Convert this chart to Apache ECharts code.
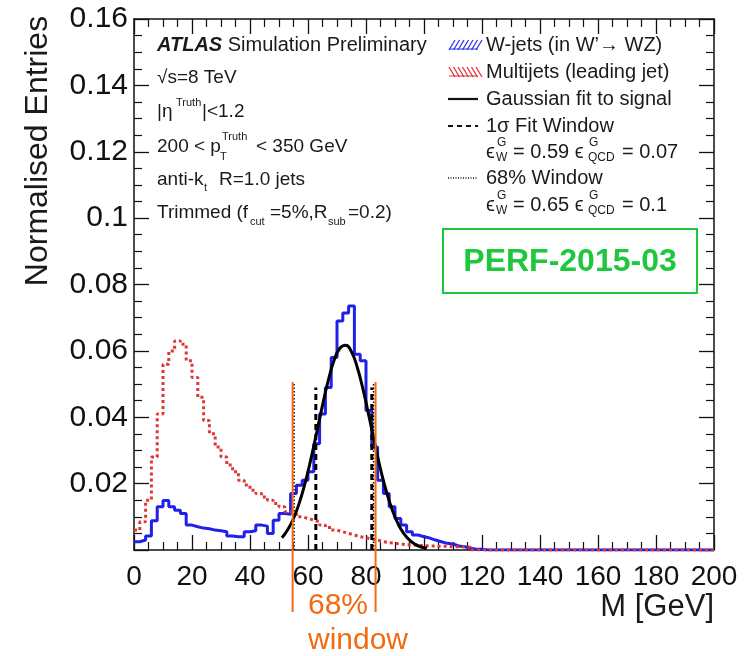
<!DOCTYPE html>
<html><head><meta charset="utf-8">
<script src="https://cdn.jsdelivr.net/npm/echarts@6/dist/echarts.min.js"></script>
<style>html,body{margin:0;padding:0;background:#fff}#c{width:751px;height:656px}</style>
</head><body><div id="c"></div>
<script>
// ---- data ----
const binWidth = 2; // GeV
const wjets = [
 0.0025,0.003,0.0042,0.0088,0.013,0.0149,0.013,0.012,0.011,0.0075,
 0.007,0.0066,0.0064,0.006,0.0058,0.0055,0.0042,0.004,0.004,0.0055,
 0.0058,0.0075,0.0072,0.005,0.009,0.011,0.0108,0.017,0.0195,0.021,
 0.0236,0.032,0.041,0.049,0.058,0.069,0.0714,0.0735,0.059,0.057,
 0.042,0.031,0.021,0.017,0.013,0.0095,0.0075,0.0055,0.0045,0.004,
 0.0036,0.003,0.0025,0.002,0.0018,0.0012,0.001,0.0005,0.0002,0.0002,
 0,0,0,0,0,0,0,0,0,0, 0,0,0,0,0,0,0,0,0,0,
 0,0,0,0,0,0,0,0,0,0, 0,0,0,0,0,0,0,0,0,0];
const multijets = [
 0.006,0.0085,0.015,0.028,0.041,0.056,0.060,0.063,0.062,0.057,
 0.052,0.046,0.039,0.035,0.031,0.028,0.0256,0.0236,0.021,0.0196,
 0.018,0.017,0.016,0.015,0.014,0.013,0.0115,0.011,0.010,0.0095,
 0.009,0.0085,0.0075,0.0068,0.006,0.0055,0.005,0.0045,0.004,0.0037,
 0.0033,0.003,0.0025,0.0022,0.002,0.0018,0.0016,0.0015,0.0014,0.0013,
 0.0012,0.0012,0.0011,0.0011,0.001,0.001,0.001,0.0008,0,0,
 0,0,0,0,0,0,0,0,0,0, 0,0,0,0,0,0,0,0,0,0,
 0,0,0,0,0,0,0,0,0,0, 0,0,0,0,0,0,0,0,0,0];
const gausM = [51,53,55,57,59,61,63,65,67,69,71,73,75,77,79,81,83,85,87,89,91,93,95,97,99,101];
const gausV = [0.0037,0.0061,0.0095,0.0142,0.0202,0.0274,0.0354,0.0436,0.0511,0.0572,0.0608,0.0617,0.0597,
               0.0550,0.0483,0.0404,0.0322,0.0244,0.0177,0.0122,0.0080,0.0050,0.0030,0.0017,0.0009,0.0005];
const sigmaWindow = [62.7, 82.0];
const sigmaTop = 0.049;
const window68 = [55.2, 82.6];
const window68Top = 0.0506;
const orangeWindow = [54.7, 83.3];
const xRange = [0, 200], xStep = 20;
const yRange = [0, 0.16], yStep = 0.02;

// ---- build ----
const FONT = "'Liberation Sans', Arial, sans-serif";
function stepData(vals){
  const d = vals.map((v,i)=>[i*binWidth, v]);
  d.push([vals.length*binWidth, vals[vals.length-1]]);
  return d;
}
const chart = echarts.init(document.getElementById('c'), null, {renderer:'canvas'});
const axisLine = {show:true, onZero:false, lineStyle:{color:'#111', width:1.5}};
const tick = {show:true, inside:true, length:15, lineStyle:{color:'#111', width:1.3}};
const minor = {show:true, splitNumber:4, length:8, lineStyle:{color:'#111', width:1.2}};
function vline(x, top, dash, w){
  return {type:'line', data:[[x,0],[x,top]], symbol:'none', silent:true, z:5,
    lineStyle:{color:'#000', width:w, type:dash}, animation:false};
}
const series = [
  {type:'line', name:'W-jets', data:stepData(wjets), step:'end', symbol:'none', z:3,
   lineStyle:{color:'#2020ea', width:3}, animation:false},
  {type:'line', name:'Multijets', data:stepData(multijets), step:'end', symbol:'none', z:4,
   lineStyle:{color:'#e03535', width:3, type:[3,3]}, animation:false},
  {type:'line', name:'Gaussian', data:gausM.map((m,i)=>[m,gausV[i]]), smooth:true, symbol:'none', z:6,
   lineStyle:{color:'#000', width:3}, animation:false},
  vline(sigmaWindow[0], sigmaTop, [6,4], 3),
  vline(sigmaWindow[1], sigmaTop, [6,4], 3),
  vline(window68[0], window68Top, [1.5,2], 1.5),
  vline(window68[1], window68Top, [1.5,2], 1.5)
];
chart.setOption({
  animation:false,
  grid:{left:134, right:37, top:19, bottom:106, containLabel:false},
  xAxis:[
    {type:'value', min:xRange[0], max:xRange[1], interval:xStep, position:'bottom',
     axisLine, axisTick:tick, minorTick:minor, splitLine:{show:false},
     axisLabel:{fontFamily:FONT, fontSize:28, color:'#111', margin:13, hideOverlap:false,
       showMinLabel:true, showMaxLabel:true}},
    {type:'value', min:xRange[0], max:xRange[1], interval:xStep, position:'top',
     axisLine, axisTick:tick, minorTick:minor, splitLine:{show:false}, axisLabel:{show:false}}
  ],
  yAxis:[
    {type:'value', min:yRange[0], max:yRange[1], interval:yStep, position:'left',
     axisLine, axisTick:tick, minorTick:minor, splitLine:{show:false},
     axisLabel:{fontFamily:FONT, fontSize:30, color:'#111', margin:6,
       formatter:v=> v===0 ? '' : String(+v.toFixed(2))}},
    {type:'value', min:yRange[0], max:yRange[1], interval:yStep, position:'right',
     axisLine, axisTick:tick, minorTick:minor, splitLine:{show:false}, axisLabel:{show:false}}
  ],
  series
});

// ---- annotations ----
const g = [];
function txt(x, y, s, size, opts){
  g.push(Object.assign({type:'text', x, y, z:10, silent:true,
    style:Object.assign({text:s, fontFamily:FONT, fontSize:size, fill:'#1a1a1a',
      textAlign:'left', textVerticalAlign:'middle'}, (opts&&opts.style)||{})}, opts&&opts.el||{}));
}
// left info block
g.push({type:'text', x:157, y:45, z:10, silent:true, style:{
  text:'{a|ATLAS} Simulation Preliminary', fontFamily:FONT, fontSize:20, fill:'#1a1a1a',
  textVerticalAlign:'middle', rich:{a:{fontFamily:FONT, fontSize:20, fontWeight:'bold', fontStyle:'italic', fill:'#1a1a1a'}}}});
txt(157, 78, '\u221As=8 TeV', 19);
txt(157, 112, '|\u03B7', 19);
txt(176, 103, 'Truth', 11);
txt(202, 112, '|<1.2', 19);
txt(157, 147, '200 < p', 19);
txt(222, 137, 'Truth', 11);
txt(220, 157, 'T', 11);
txt(256, 147, '< 350 GeV', 19);
txt(157, 180, 'anti-k', 19);
txt(204, 188, 't', 11);
txt(219, 180, 'R=1.0 jets', 19);
txt(157, 213, 'Trimmed (f', 19);
txt(250, 222, 'cut', 11);
txt(270, 213, '=5%,R', 19);
txt(328, 222, 'sub', 11);
txt(348, 213, '=0.2)', 19);

// legend
const LX = 486;
txt(LX, 45, 'W-jets (in W\u2019\u2192 WZ)', 20);
txt(LX, 72, 'Multijets (leading jet)', 20);
txt(LX, 99, 'Gaussian fit to signal', 20);
txt(LX, 126, '1\u03C3 Fit Window', 20);
txt(LX, 152, '\u03F5', 20);
txt(497, 143, 'G', 12);
txt(496, 158, 'W', 12);
txt(513, 152, '= 0.59 \u03F5', 20);
txt(589, 143, 'G', 12);
txt(588, 158, 'QCD', 12);
txt(622, 152, '= 0.07', 20);
txt(LX, 178, '68% Window', 20);
txt(LX, 205, '\u03F5', 20);
txt(497, 196, 'G', 12);
txt(496, 211, 'W', 12);
txt(513, 205, '= 0.65 \u03F5', 20);
txt(589, 196, 'G', 12);
txt(588, 211, 'QCD', 12);
txt(622, 205, '= 0.1', 20);
// legend icons
function hatch(y0, color, dir){
  g.push({type:'line', silent:true, z:10, shape:{x1:449,y1:y0+9,x2:478,y2:y0+9}, style:{stroke:color, lineWidth:1}});
  for(let k=0;k<7;k++){
    const x = 449 + k*4.5;
    const shape = dir>0 ? {x1:x, y1:y0+10, x2:x+6, y2:y0} : {x1:x, y1:y0, x2:x+6, y2:y0+10};
    g.push({type:'line', silent:true, z:10, shape, style:{stroke:color, lineWidth:1.3}});
  }
}
hatch(40, '#3333ee', 1);
hatch(67, '#e03535', -1);
g.push({type:'line', silent:true, z:10, shape:{x1:448,y1:99,x2:478,y2:99}, style:{stroke:'#111', lineWidth:2.2}});
g.push({type:'line', silent:true, z:10, shape:{x1:448,y1:126,x2:478,y2:126}, style:{stroke:'#111', lineWidth:2.2, lineDash:[5,4]}});
g.push({type:'line', silent:true, z:10, shape:{x1:448,y1:178,x2:478,y2:178}, style:{stroke:'#111', lineWidth:1.3, lineDash:[1,1.5]}});

// green tag
g.push({type:'rect', silent:true, z:10, shape:{x:443, y:229, width:254, height:64},
  style:{fill:'#fff', stroke:'#1ec83c', lineWidth:2}});
txt(570, 262, 'PERF-2015-03', 32, {style:{textAlign:'center', fill:'#1ec83c', fontWeight:'bold'}});

// axis titles
g.push({type:'text', x:38, y:151, rotation:Math.PI/2, z:10, silent:true,
  style:{text:'Normalised Entries', fontFamily:FONT, fontSize:32, fill:'#1a1a1a', textAlign:'center', textVerticalAlign:'middle'}});
txt(714, 607, 'M [GeV]', 31, {style:{textAlign:'right'}});

// orange window annotation
const ORANGE = '#f26b12';
orangeWindow.forEach(m=>{
  const px = chart.convertToPixel({xAxisIndex:0}, m);
  g.push({type:'line', silent:true, z:11, shape:{x1:px, y1:382, x2:px, y2:612}, style:{stroke:ORANGE, lineWidth:2}});
});
txt(338, 606, '68%', 30, {style:{textAlign:'center', fill:ORANGE}});
txt(358, 641, 'window', 30, {style:{textAlign:'center', fill:ORANGE}});

chart.setOption({graphic:{elements:g}});
</script></body></html>
